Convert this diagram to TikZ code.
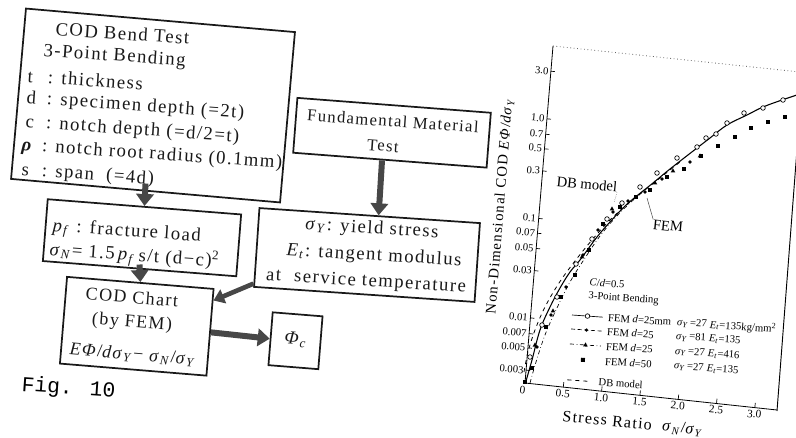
\documentclass[tikz,border=0pt]{standalone}
\usepackage{fontspec}
\setmainfont{Liberation Serif}
\newfontfamily\scan{Liberation Serif}[LetterSpace=8]
\newfontfamily\typew{Liberation Mono}
\usetikzlibrary{arrows.meta,calc}
\newcommand\setfs[1]{\fontsize{#1}{#1}\selectfont}
\newcommand\sgY{\textit{σ}\textsubscript{\textit{Y}}}
\newcommand\sgN{\textit{σ}\textsubscript{\textit{N}}}
\newcommand\Etan{\textit{E}\textsubscript{\textit{t}}}
\newcommand\lbl[1]{\makebox[1.1em][l]{#1}}
\tikzset{
  mkO/.pic={\draw[line width=0.5pt, fill=white] (0,0) circle (2.3);},
  mkD/.pic={\fill (0,0) circle (1.8);},
  mkS/.pic={\fill (-2,-2) rectangle (2,2);},
  mkT/.pic={\fill (0,-2.6) -- (2.3,1.5) -- (-2.3,1.5) -- cycle;},
}
\begin{document}
\begin{tikzpicture}[x=0.75pt,y=-0.75pt,
  box/.style={draw=black!90, line width=1.3pt, inner sep=0pt},
  flow/.style={draw=black!72, line width=4.5pt, -{Triangle[length=9pt,width=13pt]}},
  flowthin/.style={draw=black!72, line width=3.5pt, -{Triangle[length=8pt,width=11pt]}},
  btxt/.style={font={\scan\setfs{14pt}}, inner sep=0pt, text=black!90},
  ftxt/.style={font={\scan\setfs{12.5pt}}, inner sep=0pt, text=black!90},
  ctxt/.style={font={\scan\setfs{13.5pt}}, inner sep=0pt, text=black!90},
  tick/.style={font={\setfs{8pt}}, inner sep=1pt},
  xtick/.style={font={\setfs{8.5pt}}, inner sep=0.5pt},
  legend/.style={font={\setfs{8pt}}, inner sep=0pt, anchor=west},
  fcurve/.style={line width=0.8pt},
]
\useasboundingbox (0,0) rectangle (796,438);
\clip (0,0) rectangle (796,438);

% ---------- flow chart boxes ----------
\node[box, rotate=-5, minimum width={270*0.75pt}, minimum height={171*0.75pt}] (b1) at (153,105.5) {};
\node[box, rotate=-4.5, minimum width={194*0.75pt}, minimum height={62*0.75pt}] (b2) at (142,237.75) {};
\node[box, rotate=-4.7, minimum width={147*0.75pt}, minimum height={87*0.75pt}] (b3) at (136.75,326.25) {};
\node[box, rotate=-4.6, minimum width={50*0.75pt}, minimum height={53*0.75pt}] (phi) at (295.5,340.75) {};
\node[box, rotate=-4.4, minimum width={194*0.75pt}, minimum height={55*0.75pt}] (fund) at (392,132.75) {};
\node[box, rotate=-3.9, minimum width={221*0.75pt}, minimum height={79*0.75pt}] (sy) at (367,255) {};

% box 1 text
\node[btxt, rotate=-4, anchor=base west] (t1) at (55,35) {COD Bend Test};
\node[btxt, rotate=-4, anchor=base west] (t2) at (43,56) {3-Point Bending};
\node[btxt, rotate=-4, anchor=base west] (t3) at (27,82) {\lbl{t}: thickness};
\node[btxt, rotate=-4, anchor=base west] (t4) at (26,103) {\lbl{d}: specimen depth (=2t)};
\node[btxt, rotate=-4, anchor=base west] (t5) at (25,127) {\lbl{c}: notch depth (=d/2=t)};
\node[btxt, rotate=-4, anchor=base west] (t6) at (21,150) {\lbl{\textbf{\textit{ρ}}}: notch root radius (0.1mm)};
\node[btxt, rotate=-4, anchor=base west] (t7) at (21,175) {\lbl{s}: span\ \ (=4d)};

% box 2 text
\node[btxt, rotate=-4, anchor=base west] (p1) at (52,231) {\textit{p}\textsubscript{\textit{f}} : fracture load};
\node[btxt, rotate=-4, anchor=base west] (p2) at (49,255) {\sgN = 1.5\,\textit{p}\textsubscript{\textit{f}}\,s/t (d−c)\textsuperscript{2}};

% box 3 text
\node[ctxt, rotate=-4.5] (c1) at (132,297) {COD Chart};
\node[ctxt, rotate=-4.5] (c2) at (132,323) {(by FEM)};
\node[ctxt, rotate=-4.5] (c3) at (133,355) {\textit{EΦ}/\textit{d}\sgY − \sgN/\sgY};

% phi box
\node[btxt, rotate=-4.5] (ph) at (296,340) {\textit{Φ}\textsubscript{\textit{c}}};

% fundamental box
\node[ftxt, rotate=-4] (f1) at (393,121) {Fundamental Material};
\node[ftxt, rotate=-4] (f2) at (383,146) {Test};

% sigma box
\node[btxt, rotate=-3.5] (s1) at (372,229) {\sgY : yield stress};
\node[btxt, rotate=-3.5] (s2) at (374,256) {\Etan : tangent modulus};
\node[btxt, rotate=-3.5] (s3) at (366,282) {at\hspace{0.7em}service temperature};

% figure caption
\node[font={\typew\setfs{16pt}}, inner sep=0pt, rotate=-4, anchor=base west] (fig) at (21,391) {Fig. 10};

% ---------- arrows ----------
\draw[flow] ($(b1.south)+(0,-8)$) -- (b2.north);
\draw[flow] ($(b2.south)+(0,-5)$) -- (b3.north);
\draw[flow] ($(fund.south west)!0.46!(fund.south east)$) -- ($(sy.north west)!0.54!(sy.north east)$);
\draw[flowthin] ($(sy.north west)!0.95!(sy.south west)$) -- ($(b3.north east)!0.14!(b3.south east)$);
\draw[flow] (b3.east) -- (phi.west);

% ---------- plot (image-pixel coordinates computed explicitly) ----------
\draw[black!60, dotted, line width=0.6pt] (553,46) -- (800,72);
\draw[line width=0.7pt] (777,411) -- (800,110);
\draw[line width=0.6pt] (553,46) -- (525,383) -- (777,410);
\foreach \v [count=\i] in {3.0,1.0,0.7,0.5,0.3,0.1,0.07,0.05,0.03,0.01,0.007,0.005,0.003} {
  \pgfmathsetmacro\ww{log10(\v)+2.65}
  \pgfmathsetmacro\px{525+8.3*\ww}
  \pgfmathsetmacro\py{383-99.7*\ww}
  \draw[line width=0.5pt] (\px,\py) -- ++(4,0.4);
  \node[tick, anchor=east, rotate=-5] (yl\i) at (\px-1,\py) {\v};
}
\foreach \u [count=\i] in {0.5,1.0,1.5,2.0,2.5,3.0} {
  \pgfmathsetmacro\px{525+76.6*\u}
  \pgfmathsetmacro\py{383+8.3*\u}
  \draw[line width=0.5pt] (\px,\py) -- ++(0.5,-5);
  \node[xtick, anchor=north, rotate=-5.5] (xl\i) at (\px,\py+1.5) {\u};
}
\node[xtick, anchor=north, rotate=-5.5] (xl0) at (523,385) {0};

% axis titles
\node[font={\scan\setfs{11pt}}, inner sep=0pt, rotate=85.5] (ytitle) at (500,206) {Non-Dimensional COD \textit{EΦ}/\textit{dσ}\textsubscript{\textit{Y}}};
\node[font={\scan\setfs{12pt}}, inner sep=0pt, rotate=-5.5] (xtitle) at (633,424) {Stress Ratio\ \ \sgN/\sgY};

% curves
\draw[fcurve] plot[smooth, tension=0.6] coordinates {(526,381) (532,360) (540,330) (550,307) (560,288) (570,272) (580,260) (597,237) (610,222) (623,208) (633,199) (653,183) (670,169) (697,148) (710,138) (727,125) (747,115) (763,107) (782,100) (800,94)};
\draw[line width=0.6pt, dashed] plot[smooth, tension=0.6] coordinates {(524,372) (528,352) (535,330) (545,307) (559,283) (575,261) (592,240) (610,220) (630,202) (655,182) (680,162)};
\draw[line width=0.5pt, dash dot] plot[smooth, tension=0.6] coordinates {(530,383) (536,362) (545,335) (556,310) (570,282) (585,258) (600,236) (615,218) (630,203) (645,190)};

\foreach \p in {(783,100),(763,108),(744,113),(727,123),(716,134),(706,138),(697,147),(677,158),(657,173),(640,187),(622,203),(607,219),(592,239),(576,264),(557,297),(542,325),(530,357)} \pic at \p {mkO};
\foreach \p in {(785,117),(768,122),(751,128),(735,137),(718,146),(701,156),(684,169),(667,177),(650,190),(636,197),(620,207),(603,224),(589,250),(575,275),(561,297),(546,327),(532,368),(525,382)} \pic at \p {mkS};
\foreach \p in {(690,162),(662,179),(645,192),(628,201),(613,212),(598,230),(583,255),(566,287),(551,315),(537,347)} \pic at \p {mkD};
\foreach \p in {(700,156),(673,171),(655,183),(612,209),(582,257),(553,311),(535,345)} \pic at \p {mkT};

% curve labels
\node[font={\setfs{11pt}}, inner sep=0pt, rotate=-5.5] (dbl) at (587,184) {DB model};
\node[font={\setfs{11pt}}, inner sep=0pt, rotate=-5.5] (feml) at (668,226) {FEM};
\draw[line width=0.4pt, black!70, densely dotted] (dbl.south east) -- (614,203);
\draw[line width=0.4pt, black!70] (feml.north west) -- (647,198);

% legend
\begin{scope}[shift={(429pt,-236.25pt)}, rotate=-4, transform shape]
  \node[legend] (lgc) at (15,-34) {\textit{C}/\textit{d}=0.5};
  \node[legend] (lgb) at (15,-20) {3-Point Bending};
  \draw[line width=0.5pt] (0,0) -- (31,0); \pic at (15.5,0) {mkO};
  \draw[line width=0.5pt, densely dashed] (0,14) -- (31,14); \pic at (15.5,14) {mkD};
  \draw[line width=0.5pt, dash dot] (0,29) -- (31,29); \pic at (15.5,29) {mkT};
  \pic at (14,44) {mkS};
  \draw[line width=0.6pt, dashed] (0,65) -- (22,65);
  \node[legend] (lf1) at (36,0) {FEM \textit{d}=25mm};
  \node[legend] (ls1) at (105,0) {\sgY\,=27};
  \node[legend] (le1) at (138,0) {\Etan=135kg/mm\textsuperscript{2}};
  \node[legend] (lf2) at (36,14) {FEM \textit{d}=25};
  \node[legend] (ls2) at (105,14) {\sgY\,=81};
  \node[legend] (le2) at (138,14) {\Etan=135};
  \node[legend] (lf3) at (36,29) {FEM \textit{d}=25};
  \node[legend] (ls3) at (105,29) {\sgY\,=27};
  \node[legend] (le3) at (138,29) {\Etan=416};
  \node[legend] (lf4) at (36,44) {FEM \textit{d}=50};
  \node[legend] (ls4) at (105,44) {\sgY\,=27};
  \node[legend] (le4) at (138,44) {\Etan=135};
  \node[legend] (lf5) at (31,65) {DB model};
\end{scope}
\end{tikzpicture}
\end{document}
